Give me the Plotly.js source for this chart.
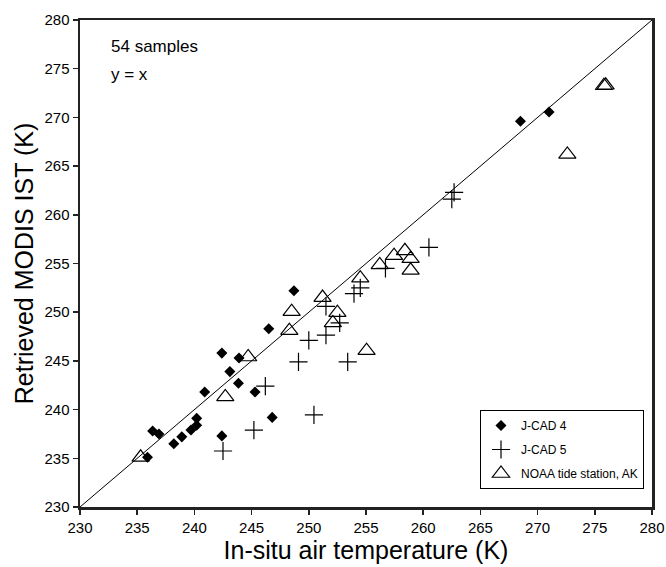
<!DOCTYPE html>
<html>
<head>
<meta charset="utf-8">
<script src="https://cdn.plot.ly/plotly-3.0.1.min.js"></script>
<style>html,body{margin:0;padding:0;background:#fff;}#chart{width:666px;height:567px;}</style>
</head>
<body>
<div id="chart"></div>
<script>
// J-CAD 4 buoy samples
const jcad4X = [235.9, 236.35, 236.9, 238.2, 238.9, 239.7, 240.2, 240.2, 240.9, 242.4, 242.4, 243.1, 243.85, 243.9, 245.3, 246.5, 246.8, 248.7, 268.5, 271.0];
const jcad4Y = [235.1, 237.8, 237.5, 236.5, 237.2, 237.9, 238.4, 239.1, 241.8, 237.3, 245.8, 243.9, 242.7, 245.3, 241.8, 248.3, 239.2, 252.2, 269.6, 270.55];
// J-CAD 5 buoy samples
const jcad5X = [242.5, 245.2, 246.2, 249.1, 250.0, 250.45, 251.5, 251.5, 252.7, 253.4, 253.95, 254.5, 256.7, 260.5, 262.5, 262.7];
const jcad5Y = [235.75, 237.9, 242.4, 244.9, 247.1, 239.45, 250.6, 247.65, 248.9, 244.9, 251.9, 252.5, 254.5, 256.65, 261.6, 262.3];
// NOAA tide station samples
const noaaX = [235.3, 242.7, 244.7, 248.3, 248.5, 251.2, 252.1, 252.5, 254.5, 255.05, 256.2, 257.45, 258.4, 258.9, 258.9, 272.6, 275.8, 275.95];
const noaaY = [235.1, 241.3, 245.4, 248.1, 250.05, 251.5, 248.9, 249.95, 253.5, 246.05, 254.85, 255.8, 256.3, 255.5, 254.3, 266.2, 273.25, 273.3];
// 1:1 line
const lineXY = [230, 280];
const tickVals = [230, 235, 240, 245, 250, 255, 260, 265, 270, 275, 280];

const font = "Liberation Sans, Arial, sans-serif";

const traces = [
  {x: lineXY, y: lineXY, mode: 'lines', line: {color: '#000', width: 1}, showlegend: false, hoverinfo: 'skip'},
  {x: jcad4X, y: jcad4Y, mode: 'markers', name: 'J-CAD 4', legendgroup: 'a',
   marker: {symbol: 'diamond', size: 8.5, color: '#000'}},
  {x: jcad5X, y: jcad5Y, mode: 'markers', name: 'J-CAD 5', legendgroup: 'b',
   marker: {symbol: 'cross-thin-open', size: 13, color: '#000', line: {color: '#000', width: 1.2}}},
  {x: noaaX, y: noaaY, mode: 'markers', name: 'NOAA tide station, AK', legendgroup: 'c',
   marker: {symbol: 'triangle-up-open', size: 15, color: '#000', line: {color: '#000', width: 1.2}}}
];

const axisCommon = {
  range: [230, 280], tickvals: tickVals, ticktext: tickVals.map(String),
  showgrid: false, zeroline: false, showline: true, linecolor: '#222', linewidth: 2.5,
  mirror: true, ticks: 'outside', ticklen: 5, tickwidth: 1.5, tickcolor: '#222',
  tickfont: {family: font, size: 15, color: '#000'}
};

const layout = {
  width: 666, height: 567,
  margin: {l: 80, r: 14, t: 20, b: 60},
  paper_bgcolor: '#fff', plot_bgcolor: '#fff',
  font: {family: font, color: '#000'},
  xaxis: Object.assign({}, axisCommon, {
    title: {text: 'In-situ air temperature (K)', font: {family: font, size: 25, color: '#000'}, standoff: 4}
  }),
  yaxis: Object.assign({}, axisCommon, {
    title: {text: 'Retrieved MODIS IST (K)', font: {family: font, size: 25, color: '#000'}, standoff: 4}
  }),
  legend: {
    x: 0.986, y: 0.037, xanchor: 'right', yanchor: 'bottom',
    bordercolor: '#000', borderwidth: 1, bgcolor: '#fff',
    font: {family: font, size: 12, color: '#000'},
    itemwidth: 30, tracegroupgap: 5
  },
  annotations: [
    {xref: 'paper', yref: 'paper', x: 0.05, y: 0.945, xanchor: 'left', yanchor: 'middle',
     text: '54 samples', showarrow: false, font: {family: font, size: 17, color: '#000'}},
    {xref: 'paper', yref: 'paper', x: 0.05, y: 0.888, xanchor: 'left', yanchor: 'middle',
     text: 'y = x', showarrow: false, font: {family: font, size: 17, color: '#000'}}
  ]
};

Plotly.newPlot('chart', traces, layout, {displayModeBar: false, staticPlot: true});
</script>
</body>
</html>
